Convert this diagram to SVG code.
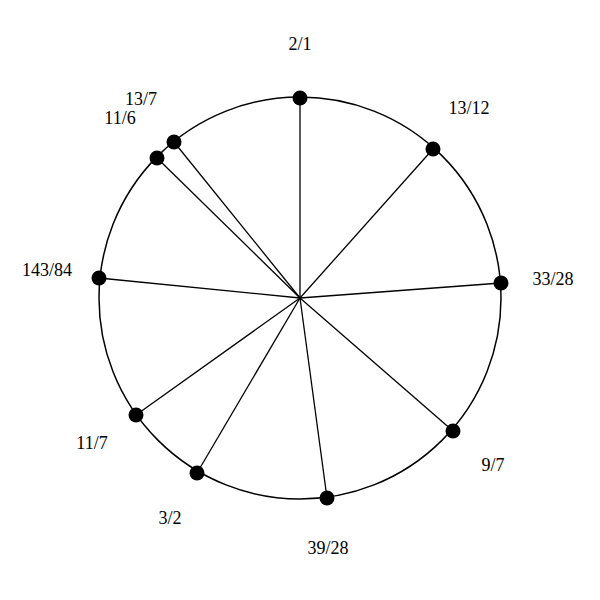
<svg xmlns="http://www.w3.org/2000/svg" width="600" height="600" viewBox="0 0 600 600">
<style>
.c{fill:none;stroke:#000;stroke-width:1.5}
.s{stroke:#000;stroke-width:1.3}
.d{fill:#000}
text{font-family:"Liberation Serif","Times New Roman",serif;font-size:18px;fill:#000;text-anchor:middle}
</style>
<rect width="600" height="600" fill="#fff"/>
<circle class="c" cx="300" cy="298" r="201"/>
<g id="connectors">
<line class="s" x1="300" y1="298" x2="300" y2="98"/>
<line class="s" x1="300" y1="298" x2="433" y2="149"/>
<line class="s" x1="300" y1="298" x2="501" y2="283"/>
<line class="s" x1="300" y1="298" x2="453" y2="431"/>
<line class="s" x1="300" y1="298" x2="327" y2="498"/>
<line class="s" x1="300" y1="298" x2="197" y2="473"/>
<line class="s" x1="300" y1="298" x2="136" y2="415"/>
<line class="s" x1="300" y1="298" x2="99" y2="278"/>
<line class="s" x1="300" y1="298" x2="157" y2="158"/>
<line class="s" x1="300" y1="298" x2="174" y2="142"/>
</g>
<g id="n-2-1"><circle class="d" cx="300" cy="98" r="7.5"/><text x="300" y="50">2/1</text></g>
<g id="n-13-12"><circle class="d" cx="433" cy="149" r="7.5"/><text x="469" y="114">13/12</text></g>
<g id="n-33-28"><circle class="d" cx="501" cy="283" r="7.5"/><text x="553" y="285">33/28</text></g>
<g id="n-9-7"><circle class="d" cx="453" cy="431" r="7.5"/><text x="493" y="471">9/7</text></g>
<g id="n-39-28"><circle class="d" cx="327" cy="498" r="7.5"/><text x="328" y="554">39/28</text></g>
<g id="n-3-2"><circle class="d" cx="197" cy="473" r="7.5"/><text x="170" y="524">3/2</text></g>
<g id="n-11-7"><circle class="d" cx="136" cy="415" r="7.5"/><text x="92" y="449">11/7</text></g>
<g id="n-143-84"><circle class="d" cx="99" cy="278" r="7.5"/><text x="47" y="276">143/84</text></g>
<g id="n-11-6"><circle class="d" cx="157" cy="158" r="7.5"/><text x="120" y="124">11/6</text></g>
<g id="n-13-7"><circle class="d" cx="174" cy="142" r="7.5"/><text x="141" y="105">13/7</text></g>
</svg>
